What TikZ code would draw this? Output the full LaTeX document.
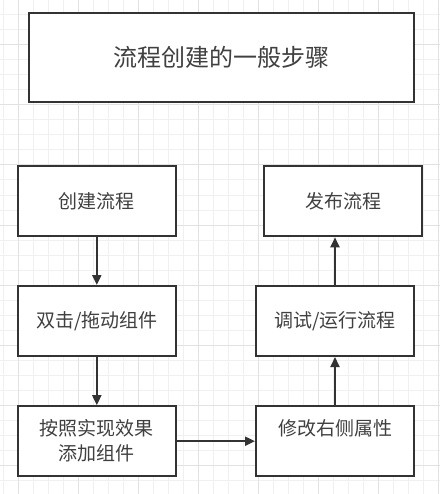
\documentclass[tikz,border=0pt]{standalone}
\usepackage[rgb]{xcolor}
\usepackage{fontspec}
\setmainfont{Noto Sans CJK SC}
\usetikzlibrary{arrows.meta}

\definecolor{gridminor}{HTML}{F0F0F0}
\definecolor{gridmajor}{HTML}{E2E2E2}
\definecolor{boxline}{HTML}{333333}
\definecolor{boxtext}{HTML}{404040}

\tikzset{
  stepnode/.style={draw=boxline, line width=2pt, fill=white, text=boxtext,
    minimum width=158pt, minimum height=70pt, inner sep=0pt, align=center,
    font=\fontsize{19}{25}\selectfont},
  titlenode/.style={stepnode, minimum width=385pt, minimum height=89pt,
    font=\fontsize{24}{30}\selectfont},
  flow/.style={draw=boxline, line width=2pt, -{Triangle[length=10pt,width=9pt]}}
}

\begin{document}
\begin{tikzpicture}[x=1pt, y=-1pt]

\useasboundingbox (0,0) rectangle (440,494);
\fill[white] (0,0) rectangle (440,494);

% Background grid
\foreach \gx in {3.3,18.3,...,440} {
  \draw[gridminor, line width=1pt] (\gx,0) -- (\gx,494);
}
\foreach \gy in {0,15,...,494} {
  \draw[gridminor, line width=1pt] (0,\gy) -- (440,\gy);
}
\foreach \gx in {18.3,78.3,...,440} {
  \draw[gridmajor, line width=1pt] (\gx,0) -- (\gx,494);
}
\foreach \gy in {45,105,...,494} {
  \draw[gridmajor, line width=1pt] (0,\gy) -- (440,\gy);
}

% Title
\path
(221.5,57.5) node [titlenode] (title) {流程创建的一般步骤};

%
% Left column
%
\path
(96.8,201.3) node [stepnode] (create) {创建流程};

\path
(96.8,321) node [stepnode] (drag) {双击/拖动组件};

\path
(96.8,441.2) node [stepnode] (add) {按照实现效果\\添加组件};

%
% Right column
%
\path
(335,441.2) node [stepnode] (modify) {修改右侧属性\\\phantom{修改}};

\path
(335,321) node [stepnode] (debug) {调试/运行流程};

\path
(343,201.3) node [stepnode] (publish) {发布流程};

% Connectors
\draw[flow] (create) -- (drag);
\draw[flow] (drag) -- (add);
\draw[flow] (add) -- (modify);
\draw[flow] (modify) -- (debug);
\draw[flow] (debug.north) -- (debug.north |- publish.south);

\end{tikzpicture}
\end{document}
